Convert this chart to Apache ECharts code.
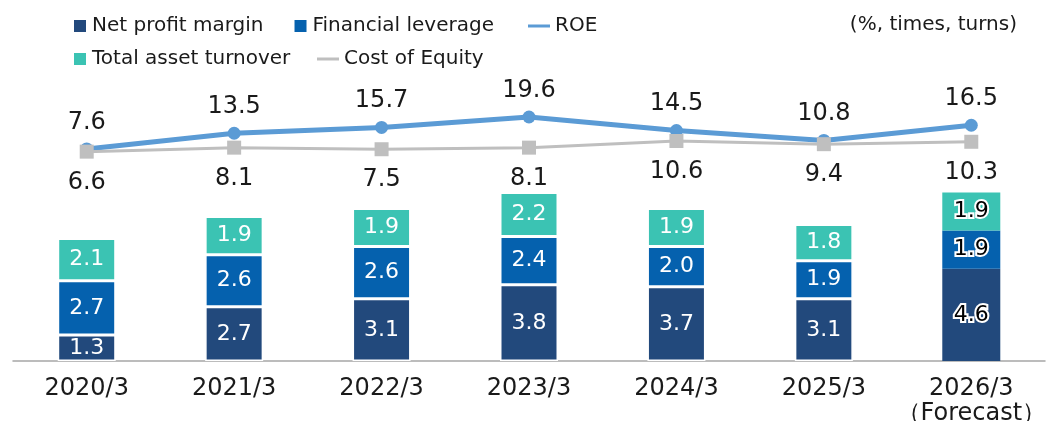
<!DOCTYPE html>
<html>
<head>
<meta charset="utf-8">
<script src="https://cdn.jsdelivr.net/npm/echarts@6/dist/echarts.min.js"></script>
<style>
  html, body { margin: 0; padding: 0; background: #fff; }
  #chart { width: 1048px; height: 421px; }
</style>
</head>
<body>
<div id="chart"></div>
<script>
const categories = ["2020/3", "2021/3", "2022/3", "2023/3", "2024/3", "2025/3", "2026/3\n（Forecast）"];
const netProfitMargin = [1.3, 2.7, 3.1, 3.8, 3.7, 3.1, 4.6];
const financialLeverage = [2.7, 2.6, 2.6, 2.4, 2.0, 1.9, 1.9];
const totalAssetTurnover = [2.1, 1.9, 1.9, 2.2, 1.9, 1.8, 1.9];
const roe = [7.6, 13.5, 15.7, 19.6, 14.5, 10.8, 16.5];
const costOfEquity = [6.6, 8.1, 7.5, 8.1, 10.6, 9.4, 10.3];
const forecastIdx = 6;

const font = "DejaVu Sans";
const fmt = p => Number(p.value).toFixed(1);

// 予想値のラベルは黒字＋白縁
const forecastLabel = {
  color: "#000",
  textBorderColor: "#fff",
  textBorderWidth: 4
};

function barData(values) {
  return values.map((v, i) =>
    i === forecastIdx
      ? { value: v, label: forecastLabel, itemStyle: { borderWidth: 0 } }
      : v
  );
}

function barSeries(name, values, color) {
  return {
    name,
    type: "bar",
    stack: "total",
    barWidth: 58,
    data: barData(values),
    itemStyle: { color, borderColor: "#fff", borderWidth: 1.5 },
    label: {
      show: true,
      position: "inside",
      color: "#fff",
      fontFamily: font,
      fontSize: 22,
      formatter: fmt
    },
    emphasis: { disabled: true }
  };
}

const chart = echarts.init(document.getElementById("chart"));

const legendText = { fontFamily: font, fontSize: 20, color: "#1a1a1a", lineHeight: 24 };

chart.setOption({
  animation: false,
  title: {
    text: "(%, times, turns)",
    right: 26,
    top: 10,
    textStyle: { fontFamily: font, fontSize: 20, fontWeight: "normal", color: "#1a1a1a" }
  },
  legend: [
    {
      data: ["Net profit margin", "Financial leverage"],
      left: 72, top: 14, padding: 0, itemGap: 29,
      icon: "rect", itemWidth: 14, itemHeight: 14,
      textStyle: legendText
    },
    {
      data: ["ROE"],
      left: 528, top: 14, padding: 0,
      icon: "rect", itemWidth: 22, itemHeight: 3,
      textStyle: legendText
    },
    {
      data: ["Total asset turnover"],
      left: 72, top: 47, padding: 0,
      icon: "rect", itemWidth: 14, itemHeight: 14,
      textStyle: legendText
    },
    {
      data: ["Cost of Equity"],
      left: 317, top: 47, padding: 0,
      icon: "rect", itemWidth: 22, itemHeight: 3,
      textStyle: legendText
    }
  ],
  grid: { left: 13, right: 3, top: 60, bottom: 60, outerBoundsMode: "none", containLabel: false },
  xAxis: {
    type: "category",
    data: categories,
    axisLine: { lineStyle: { color: "#a6a6a6", width: 1.5 } },
    axisTick: { show: false },
    axisLabel: {
      interval: 0,
      fontFamily: font,
      fontSize: 24,
      color: "#1a1a1a",
      margin: 15,
      lineHeight: 25
    }
  },
  yAxis: [
    { type: "value", min: 0, max: 15, show: false },
    { type: "value", min: -72, max: 41, show: false }
  ],
  series: [
    barSeries("Net profit margin", netProfitMargin, "#22497c"),
    barSeries("Financial leverage", financialLeverage, "#0561ae"),
    barSeries("Total asset turnover", totalAssetTurnover, "#3bc3b3"),
    {
      name: "ROE",
      type: "line",
      yAxisIndex: 1,
      data: roe,
      symbol: "circle",
      symbolSize: 13,
      itemStyle: { color: "#5b9bd5" },
      lineStyle: { color: "#5b9bd5", width: 5 },
      label: {
        show: true,
        position: "top",
        distance: 8,
        fontFamily: font,
        fontSize: 24,
        color: "#1a1a1a",
        formatter: fmt
      },
      z: 3
    },
    {
      name: "Cost of Equity",
      type: "line",
      yAxisIndex: 1,
      data: costOfEquity,
      symbol: "rect",
      symbolSize: 14,
      itemStyle: { color: "#bfbfbf" },
      lineStyle: { color: "#bfbfbf", width: 3 },
      label: {
        show: true,
        position: "bottom",
        distance: 12,
        fontFamily: font,
        fontSize: 24,
        color: "#1a1a1a",
        formatter: fmt
      },
      z: 4
    }
  ]
});
</script>
</body>
</html>
